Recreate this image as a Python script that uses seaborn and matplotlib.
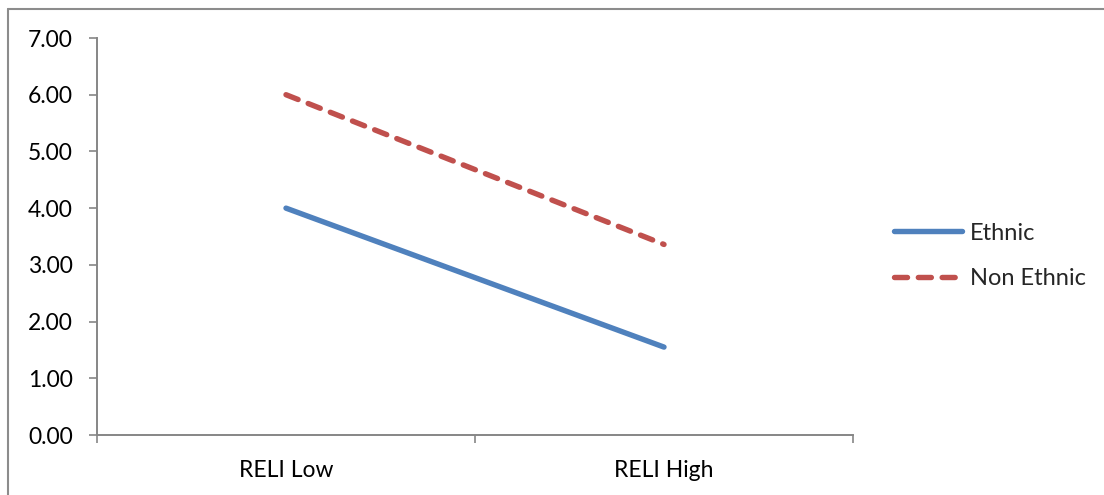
import matplotlib
matplotlib.use("Agg")
import matplotlib.pyplot as plt
from matplotlib.lines import Line2D
import seaborn as sns
import pandas as pd

# Series values
categories = ["RELI Low", "RELI High"]
ethnic = [4.00, 1.55]
non_ethnic = [6.00, 3.36]
series_names = ["Ethnic", "Non Ethnic"]
y_ticks = [0, 1, 2, 3, 4, 5, 6, 7]

df = pd.DataFrame({
    "level": categories * 2,
    "value": ethnic + non_ethnic,
    "group": [series_names[0]] * 2 + [series_names[1]] * 2,
})

sns.set_theme(style="white")
plt.rcParams["font.family"] = ["Lato", "DejaVu Sans"]
plt.rcParams["lines.solid_capstyle"] = "round"
plt.rcParams["lines.dash_capstyle"] = "round"

fig = plt.figure(figsize=(11.04, 4.95), dpi=100)
ax = fig.add_axes([97 / 1104, 60 / 495, 756 / 1104, 397 / 495])

palette = {"Ethnic": "#4F81BD", "Non Ethnic": "#C0504D"}
dashes = {"Ethnic": "", "Non Ethnic": (2.4, 2.0)}
sns.lineplot(data=df, x="level", y="value", hue="group", style="group",
             palette=palette, dashes=dashes, linewidth=3.9, ax=ax,
             sort=False)

ax.set_xlim(-0.5, 1.5)
ax.set_ylim(0, 7)
ax.set_yticks(y_ticks)
ax.set_yticklabels([f"{v:.2f}" for v in y_ticks])
ax.set_xticks([0, 1])
ax.set_xticklabels(categories)
ax.set_xticks([-0.5, 0.5, 1.5], minor=True)
ax.set_xlabel("")
ax.set_ylabel("")

axis_color = "#868686"
for side in ["top", "right"]:
    ax.spines[side].set_visible(False)
for side in ["left", "bottom"]:
    ax.spines[side].set_color(axis_color)
    ax.spines[side].set_linewidth(1.4)

ax.tick_params(axis="y", which="major", length=5.5, width=1.2, color=axis_color,
               direction="out", left=True, pad=12, labelsize=16.5, labelcolor="black")
ax.tick_params(axis="x", which="major", length=0, pad=18, labelsize=16.5,
               labelcolor="black")
ax.tick_params(axis="x", which="minor", length=5.5, width=1.2, color=axis_color,
               direction="out", bottom=True)

handles, labels = ax.get_legend_handles_labels()
leg = ax.legend(handles, labels, loc="center left",
                bbox_to_anchor=(894 / 1104, 1 - 256 / 495), bbox_transform=fig.transFigure,
                frameon=False, fontsize=17, handlelength=2.9, handletextpad=0.3,
                labelspacing=1.05, borderaxespad=0, borderpad=0)

# Outer chart frame (top and left edges)
frame_color = "#8C8C8C"
fig.add_artist(Line2D([8 / 1104, 1.0], [1 - 8.5 / 495, 1 - 8.5 / 495],
                      transform=fig.transFigure, color=frame_color, linewidth=1.5))
fig.add_artist(Line2D([8 / 1104, 8 / 1104], [0, 1 - 8.5 / 495],
                      transform=fig.transFigure, color=frame_color, linewidth=1.5))

fig.savefig("out.png", dpi=100)
